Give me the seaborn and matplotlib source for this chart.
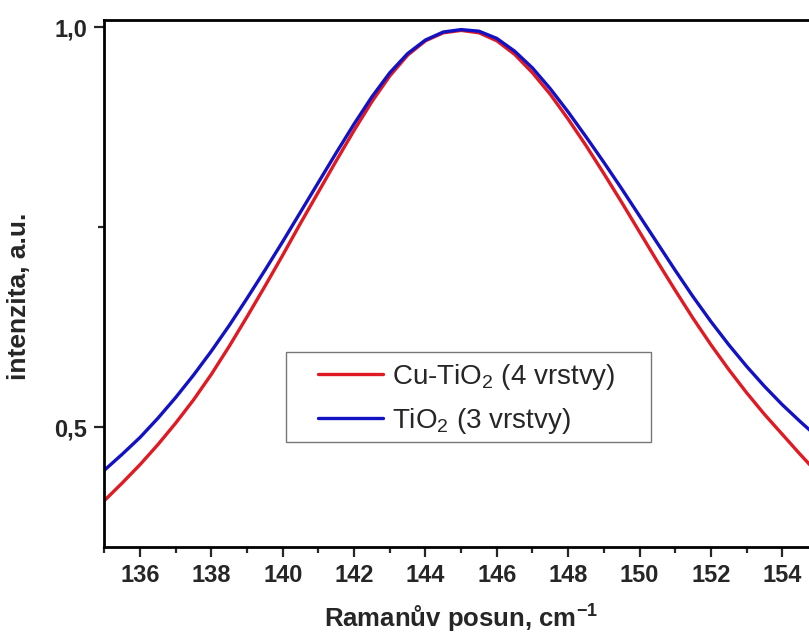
import numpy as np
import pandas as pd
import matplotlib
matplotlib.use("Agg")
import matplotlib.pyplot as plt
import seaborn as sns
from matplotlib.ticker import MultipleLocator, FuncFormatter
from matplotlib.patches import Rectangle

# Raman shift (cm-1), sampled every 0.5
shift = [135.0, 135.5, 136.0, 136.5, 137.0, 137.5, 138.0, 138.5, 139.0, 139.5,
         140.0, 140.5, 141.0, 141.5, 142.0, 142.5, 143.0, 143.5, 144.0, 144.5,
         145.0, 145.5, 146.0, 146.5, 147.0, 147.5, 148.0, 148.5, 149.0, 149.5,
         150.0, 150.5, 151.0, 151.5, 152.0, 152.5, 153.0, 153.5, 154.0, 154.5,
         155.0]

# Cu-TiO2 (4 vrstvy) - cervena
cu_tio2 = [0.408, 0.430, 0.453, 0.478, 0.505, 0.534, 0.566, 0.601, 0.638, 0.676,
           0.715, 0.755, 0.794, 0.833, 0.871, 0.907, 0.939, 0.965, 0.983, 0.993,
           0.996, 0.993, 0.983, 0.966, 0.943, 0.916, 0.885, 0.852, 0.817, 0.781,
           0.744, 0.707, 0.671, 0.636, 0.603, 0.572, 0.543, 0.516, 0.491, 0.466,
           0.442]

# TiO2 (3 vrstvy) - modra
tio2 = [0.446, 0.466, 0.487, 0.511, 0.537, 0.565, 0.595, 0.627, 0.661, 0.696,
        0.732, 0.769, 0.806, 0.843, 0.879, 0.913, 0.943, 0.967, 0.984, 0.994,
        0.997, 0.995, 0.986, 0.970, 0.949, 0.923, 0.894, 0.863, 0.831, 0.798,
        0.764, 0.730, 0.696, 0.663, 0.632, 0.603, 0.576, 0.551, 0.528, 0.507,
        0.487]

labels = ['Cu-TiO$_2$ (4 vrstvy)', 'TiO$_2$ (3 vrstvy)']
colors = ['#e01a22', '#1212c4']

df = pd.concat([
    pd.DataFrame({'shift': shift, 'int': cu_tio2, 'vzorek': labels[0]}),
    pd.DataFrame({'shift': shift, 'int': tio2, 'vzorek': labels[1]}),
])

sns.set_style("ticks")
plt.rcParams['font.family'] = ['Liberation Sans', 'DejaVu Sans']
plt.rcParams['mathtext.default'] = 'regular'

fig = plt.figure(figsize=(8.09, 6.37), dpi=100)
# osa presahuje pravy okraj obrazku (jako v originalu)
ax = fig.add_axes([0.129, 0.1413, 0.882, 0.8273])

sns.lineplot(data=df, x='shift', y='int', hue='vzorek',
             palette=dict(zip(labels, colors)), linewidth=2.4, ax=ax,
             solid_joinstyle='round', solid_capstyle='round')

ax.set_xlim(135, 155)
ax.set_ylim(0.35, 1.009)
ax.xaxis.set_major_locator(MultipleLocator(2))
ax.xaxis.set_minor_locator(MultipleLocator(1))
ax.yaxis.set_major_locator(MultipleLocator(0.5))
ax.yaxis.set_minor_locator(MultipleLocator(0.25))
ax.yaxis.set_major_formatter(FuncFormatter(lambda v, p: f'{v:.1f}'.replace('.', ',')))

for s in ax.spines.values():
    s.set_linewidth(2.0)
    s.set_color('black')
ax.tick_params(which='major', direction='out', length=7.5, width=1.6,
               labelsize=17, pad=5)
ax.tick_params(which='minor', direction='out', length=4.2, width=1.6)
for t in ax.get_xticklabels() + ax.get_yticklabels():
    t.set_fontweight('bold')

ax.set_xlabel('Ramanův posun, cm$^{-1}$', fontsize=18.5, fontweight='bold', labelpad=11)
ax.set_ylabel('intenzita, a.u.', fontsize=19, fontweight='bold')
ax.yaxis.set_label_coords(-0.103, 0.476)

# legenda bez vlastniho ramecku, ramecek kreslime zvlast
leg = ax.legend(loc='center left', bbox_to_anchor=(0.2992, 0.281), borderaxespad=0,
                fontsize=20, handlelength=2.34, handletextpad=0.32, labelspacing=0.5,
                frameon=False, borderpad=0)
for line in leg.get_lines():
    line.set_linewidth(2.4)
ax.add_patch(Rectangle((0.2544, 0.1992), 0.766 - 0.2544, 0.370 - 0.1992,
                       transform=ax.transAxes, fill=False, edgecolor='#777777',
                       linewidth=1.0, zorder=1))

fig.savefig('out.png', dpi=100, facecolor='white')
